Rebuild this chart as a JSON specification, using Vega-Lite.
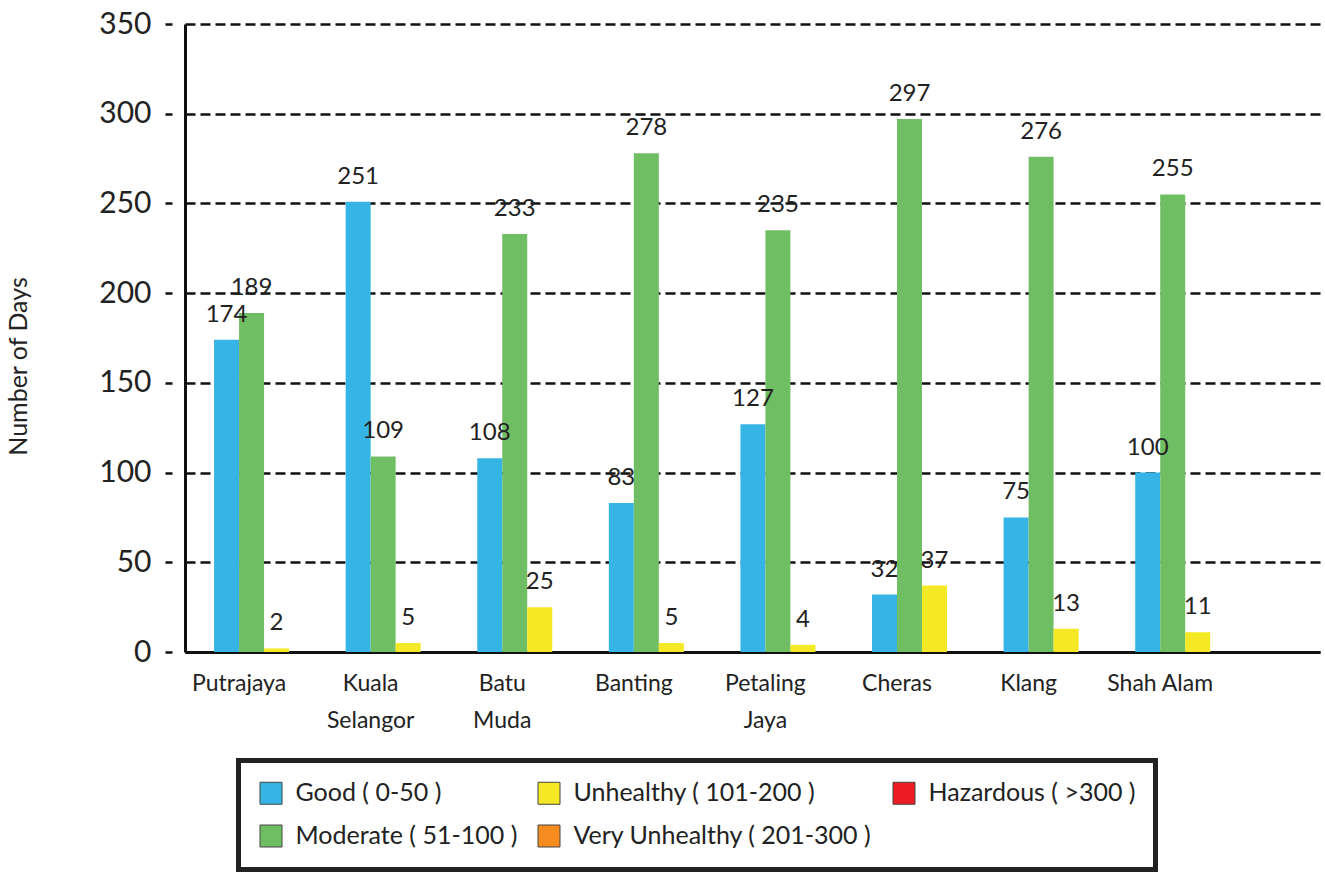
{
  "$schema": "https://vega.github.io/schema/vega-lite/v6.json",
  "width": 1135,
  "height": 628,
  "autosize": {"type": "none"},
  "padding": {"left": 185, "top": 24, "right": 5, "bottom": 221},
  "background": "white",
  "config": {
    "font": "Lato",
    "view": {"stroke": null},
    "axis": {"labelColor": "#222", "titleColor": "#222", "labelFont": "Lato", "titleFont": "Lato"}
  },
  "data": {
    "values": [
      {"location": "Putrajaya", "category": "Good ( 0-50 )", "days": 174},
      {"location": "Putrajaya", "category": "Moderate ( 51-100 )", "days": 189},
      {"location": "Putrajaya", "category": "Unhealthy ( 101-200 )", "days": 2},
      {"location": "Kuala Selangor", "category": "Good ( 0-50 )", "days": 251},
      {"location": "Kuala Selangor", "category": "Moderate ( 51-100 )", "days": 109},
      {"location": "Kuala Selangor", "category": "Unhealthy ( 101-200 )", "days": 5},
      {"location": "Batu Muda", "category": "Good ( 0-50 )", "days": 108},
      {"location": "Batu Muda", "category": "Moderate ( 51-100 )", "days": 233},
      {"location": "Batu Muda", "category": "Unhealthy ( 101-200 )", "days": 25},
      {"location": "Banting", "category": "Good ( 0-50 )", "days": 83},
      {"location": "Banting", "category": "Moderate ( 51-100 )", "days": 278},
      {"location": "Banting", "category": "Unhealthy ( 101-200 )", "days": 5},
      {"location": "Petaling Jaya", "category": "Good ( 0-50 )", "days": 127},
      {"location": "Petaling Jaya", "category": "Moderate ( 51-100 )", "days": 235},
      {"location": "Petaling Jaya", "category": "Unhealthy ( 101-200 )", "days": 4},
      {"location": "Cheras", "category": "Good ( 0-50 )", "days": 32},
      {"location": "Cheras", "category": "Moderate ( 51-100 )", "days": 297},
      {"location": "Cheras", "category": "Unhealthy ( 101-200 )", "days": 37},
      {"location": "Klang", "category": "Good ( 0-50 )", "days": 75},
      {"location": "Klang", "category": "Moderate ( 51-100 )", "days": 276},
      {"location": "Klang", "category": "Unhealthy ( 101-200 )", "days": 13},
      {"location": "Shah Alam", "category": "Good ( 0-50 )", "days": 100},
      {"location": "Shah Alam", "category": "Moderate ( 51-100 )", "days": 255},
      {"location": "Shah Alam", "category": "Unhealthy ( 101-200 )", "days": 11}
    ]
  },
  "encoding": {
    "x": {
      "field": "location",
      "type": "nominal",
      "sort": ["Putrajaya", "Kuala Selangor", "Batu Muda", "Banting", "Petaling Jaya", "Cheras", "Klang", "Shah Alam"],
      "scale": {"paddingInner": 0.05, "paddingOuter": 0.3375, "align": 0.327},
      "axis": {
        "title": null,
        "ticks": false,
        "grid": false,
        "labelAngle": 0,
        "labelFontSize": 23,
        "labelPadding": 20,
        "labelOffset": -37.5,
        "labelLineHeight": 37,
        "labelExpr": "datum.label == 'Shah Alam' ? datum.label : split(datum.label, ' ')",
        "domainColor": "#111",
        "domainWidth": 3
      }
    },
    "xOffset": {
      "field": "category",
      "type": "nominal",
      "scale": {
        "domain": ["Good ( 0-50 )", "Moderate ( 51-100 )", "Unhealthy ( 101-200 )", "Very Unhealthy ( 201-300 )", "Hazardous ( >300 )"],
        "paddingInner": 0,
        "paddingOuter": 0
      }
    },
    "y": {
      "field": "days",
      "type": "quantitative",
      "scale": {"domain": [0, 350], "nice": false},
      "axis": {
        "title": "Number of Days",
        "titleFontSize": 25,
        "titleFontWeight": "normal",
        "titleX": -154,
        "titleY": 342,
        "values": [0, 50, 100, 150, 200, 250, 300, 350],
        "grid": true,
        "gridDash": [10, 5],
        "gridColor": "#111",
        "gridWidth": 2.5,
        "gridOpacity": 1,
        "domainColor": "#111",
        "domainWidth": 3,
        "tickSize": 20,
        "tickDash": [0, 13, 7, 100],
        "tickColor": "#111",
        "tickWidth": 2.5,
        "labelFontSize": 30,
        "labelPadding": 14
      }
    }
  },
  "layer": [
    {
      "mark": {"type": "bar"},
      "encoding": {
        "color": {
          "field": "category",
          "type": "nominal",
          "scale": {
            "domain": ["Good ( 0-50 )", "Unhealthy ( 101-200 )", "Hazardous ( >300 )", "Moderate ( 51-100 )", "Very Unhealthy ( 201-300 )"],
            "range": ["#36b4e6", "#f5e925", "#ed1c24", "#70be63", "#f68b1f"]
          },
          "legend": {
            "title": null,
            "orient": "none",
            "legendX": 53.5,
            "legendY": 736.5,
            "direction": "horizontal",
            "columns": 3,
            "gridAlign": "each",
            "columnPadding": 18,
            "rowPadding": 16,
            "padding": 20,
            "strokeColor": "#222",
            "fillColor": "white",
            "symbolType": "square",
            "symbolSize": 484,
            "symbolStrokeColor": "#444",
            "symbolStrokeWidth": 1,
            "symbolOpacity": 1,
            "labelFontSize": 25,
            "labelColor": "#222",
            "labelOffset": 12,
            "labelLimit": 500,
            "encode": {"legend": {"update": {"strokeWidth": {"value": 5}}}}
          }
        }
      }
    },
    {
      "mark": {"type": "text", "baseline": "bottom", "dy": -13, "fontSize": 24, "color": "#222"},
      "encoding": {
        "text": {"field": "days", "type": "quantitative"}
      }
    }
  ]
}
